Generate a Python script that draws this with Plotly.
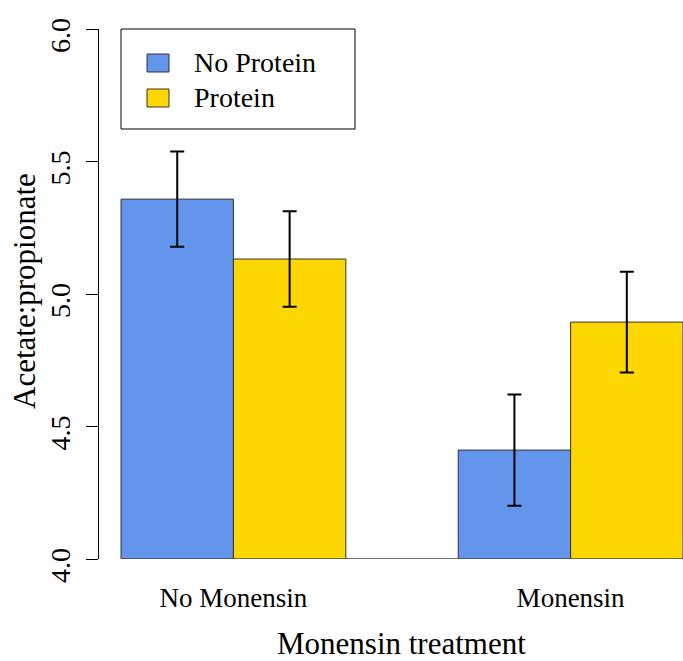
import plotly.graph_objects as go

# ---- data ----
groups = ["No Monensin", "Monensin"]
series_names = ["No Protein", "Protein"]
no_protein = [5.358, 4.411]
no_protein_se = [0.18, 0.21]
protein = [5.132, 4.894]
protein_se = [0.18, 0.19]
y_ticks = [4.0, 4.5, 5.0, 5.5, 6.0]
y_tick_labels = ["4.0", "4.5", "5.0", "5.5", "6.0"]

colors = ["#6495ED", "#FFD700"]
FONT = "Liberation Serif"

W, H = 683, 661
ML, MR, MT, MB = 99, 0, 29, 102
PW, PH = W - ML - MR, H - MT - MB


def px_x(px):
    return (px - ML) / PW


def px_y(py):
    return (H - MB - py) / PH


fig = go.Figure()
for name, vals, se, col in [(series_names[0], no_protein, no_protein_se, colors[0]),
                            (series_names[1], protein, protein_se, colors[1])]:
    fig.add_trace(go.Bar(
        x=groups, y=vals, name=name,
        marker=dict(color=col, line=dict(color="#333333", width=1)),
        error_y=dict(type="data", array=se, visible=True, color="black",
                     thickness=2, width=7),
        showlegend=False,
    ))

fig.update_layout(
    width=W, height=H,
    margin=dict(l=ML, r=MR, t=MT, b=MB, pad=0),
    paper_bgcolor="white", plot_bgcolor="white",
    barmode="group", bargap=1/3, bargroupgap=0,
    font=dict(family=FONT, color="black", size=27),
    xaxis=dict(range=[-0.3987, 1.3333], showline=False, showgrid=False,
               zeroline=False, ticks="", tickfont=dict(size=27, family=FONT),
               ticklabelstandoff=20),
    yaxis=dict(range=[4, 6], tickvals=y_ticks, showticklabels=False,
               ticks="outside", ticklen=12, tickwidth=1,
               tickcolor="black", showline=True, linecolor="black", linewidth=1,
               showgrid=False, zeroline=False),
)

# y tick labels (rotated, centred on ticks)
for v, lab in zip(y_ticks, y_tick_labels):
    fig.add_annotation(text=lab, xref="paper", yref="y", x=px_x(60), y=v,
                       xanchor="center", yanchor="middle", textangle=-90,
                       yshift=-7,
                       showarrow=False, font=dict(size=28, family=FONT))

# baseline under bars
fig.add_shape(type="line", xref="x", yref="y", x0=-1/3, x1=4/3, y0=4, y1=4,
              line=dict(color="#444444", width=1.5))

# axis titles
fig.add_annotation(text="Monensin treatment", xref="paper", yref="paper",
                   x=px_x(401), y=px_y(643), xanchor="center", yanchor="middle",
                   showarrow=False, font=dict(size=31, family=FONT))
fig.add_annotation(text="Acetate:propionate", xref="paper", yref="paper",
                   x=px_x(24), y=px_y(291), xanchor="center", yanchor="middle",
                   textangle=-90, showarrow=False, font=dict(size=31, family=FONT))

# legend box
fig.add_shape(type="rect", xref="paper", yref="paper",
              x0=px_x(121), x1=px_x(355), y0=px_y(129), y1=px_y(29),
              line=dict(color="black", width=1), fillcolor="white")
for i, (name, col) in enumerate(zip(series_names, colors)):
    top = 54 + i * 35
    fig.add_shape(type="rect", xref="paper", yref="paper",
                  x0=px_x(147), x1=px_x(169), y0=px_y(top + 18), y1=px_y(top),
                  line=dict(color="#333333", width=1), fillcolor=col)
    fig.add_annotation(text=name, xref="paper", yref="paper",
                       x=px_x(192), y=px_y(top + 9), xanchor="left", yanchor="middle",
                       showarrow=False, font=dict(size=28, family=FONT))

fig.write_html("out.html", config={"displayModeBar": False},
               post_script="document.body.style.margin='0';document.body.style.overflow='hidden';")
